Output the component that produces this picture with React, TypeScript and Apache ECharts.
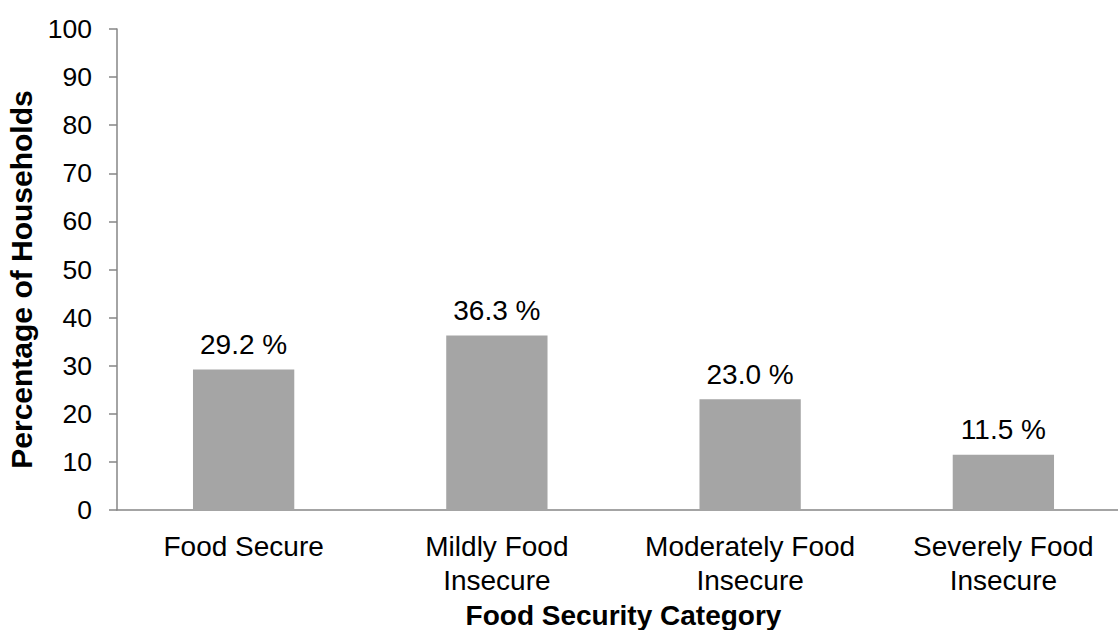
import React, { useEffect, useRef } from "react";
import * as echarts from "echarts";

const categories = ["Food Secure", "Mildly Food\nInsecure", "Moderately Food\nInsecure", "Severely Food\nInsecure"];
const values = [29.2, 36.3, 23.0, 11.5];
const yTicks = { min: 0, max: 100, interval: 10 };

export default function App() {
  const ref = useRef<HTMLDivElement>(null);
  useEffect(() => {
    const chart = echarts.init(ref.current!, undefined, { renderer: "svg" });
    const font = "Liberation Sans, Arial, sans-serif";
    const fs = 28;
    chart.setOption({
      animation: false,
      textStyle: { fontFamily: font },
      grid: { left: 117, right: 0, top: 29, bottom: 120, containLabel: false, outerBoundsMode: "none" },
      xAxis: {
        type: "category",
        data: categories,
        name: "Food Security Category",
        nameLocation: "middle",
        nameGap: 89,
        nameTextStyle: { fontSize: fs, fontWeight: "bold", color: "#000", fontFamily: font, align: "center" },
        axisLine: { lineStyle: { color: "#868686", width: 1.5 } },
        axisTick: { show: false },
        axisLabel: { interval: 0, color: "#000", fontSize: fs, fontFamily: font, lineHeight: 34, margin: 19 },
      },
      yAxis: {
        type: "value",
        min: yTicks.min,
        max: yTicks.max,
        interval: yTicks.interval,
        name: "Percentage of Households",
        nameLocation: "middle",
        nameGap: 81,
        nameRotate: 90,
        nameTextStyle: {
          fontSize: 30,
          fontWeight: "bold",
          color: "#000",
          fontFamily: font,
          padding: [0, 20, 0, 0],
        },
        axisLine: { show: true, lineStyle: { color: "#868686", width: 1.5 } },
        axisTick: { show: true, length: 8, lineStyle: { color: "#868686", width: 1.5 } },
        splitLine: { show: false },
        axisLabel: { color: "#000", fontSize: 26.5, fontFamily: font, margin: 25 },
      },
      series: [
        {
          type: "bar",
          data: values,
          barWidth: "40%",
          itemStyle: { color: "#a5a5a5" },
          label: {
            show: true,
            position: "top",
            distance: 11,
            fontSize: fs,
            color: "#000",
            fontFamily: font,
            formatter: (p: any) => `${Number(p.value).toFixed(1)} %`,
          },
        },
      ],
    });
    return () => chart.dispose();
  }, []);
  return (
    <div style={{ position: "fixed", left: 0, top: 0, width: 1118, height: 630, overflow: "hidden", background: "#fff" }}>
      <div ref={ref} style={{ width: 1130, height: 630 }} />
    </div>
  );
}
